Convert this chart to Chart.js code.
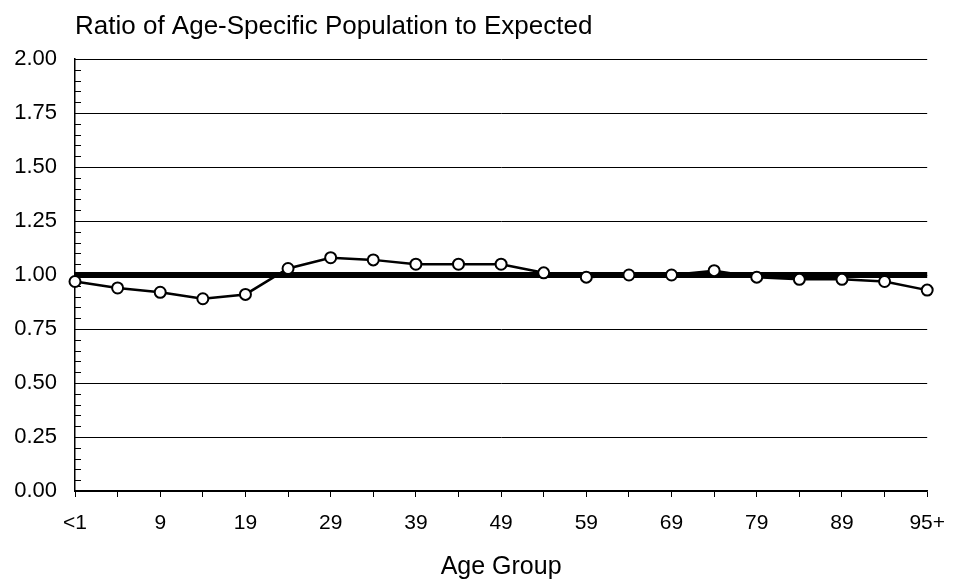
<!DOCTYPE html>
<html>
<head>
<meta charset="utf-8">
<script src="https://cdn.jsdelivr.net/npm/chart.js@4"></script>
<style>
  html, body { margin: 0; padding: 0; background: #fff; }
  #wrap { width: 959px; height: 584px; }
</style>
</head>
<body>
<div id="wrap"><canvas id="c" width="959" height="584"></canvas></div>
<script>
const chartTitle = "Ratio of Age-Specific Population to Expected";
const xAxisTitle = "Age Group";
const ageGroups = ["<1","4","9","14","19","24","29","34","39","44","49","54","59","64","69","74","79","84","89","94","95+"];
const ratioValues = [0.97,0.94,0.92,0.89,0.91,1.03,1.08,1.07,1.05,1.05,1.05,1.01,0.99,1.00,1.00,1.02,0.99,0.98,0.98,0.97,0.93];
const expectedValues = [1,1,1,1,1,1,1,1,1,1,1,1,1,1,1,1,1,1,1,1,1];
const yMin = 0, yMax = 2, yMinorStep = 0.05, yMajorStep = 0.25;

const FONT = "'Liberation Sans', Arial, sans-serif";

const isMajor = v => Math.round(v * 100) % Math.round(yMajorStep * 100) === 0;

const decorPlugin = {
  id: 'decor',
  afterDraw(chart) {
    const {ctx, chartArea, scales} = chart;
    const y = scales.y;
    ctx.save();
    ctx.strokeStyle = '#000';
    ctx.lineWidth = 1;
    y.ticks.forEach(t => {
      const py = Math.round(y.getPixelForValue(t.value)) + 0.5;
      ctx.beginPath();
      ctx.moveTo(chartArea.left, py);
      ctx.lineTo(chartArea.left + 6, py);
      ctx.stroke();
    });
    ctx.fillStyle = '#000';
    ctx.font = "26px " + FONT;
    ctx.textBaseline = 'alphabetic';
    ctx.textAlign = 'left';
    ctx.fillText(chartTitle, chartArea.left, 34);
    ctx.restore();
  }
};

new Chart(document.getElementById('c'), {
  type: 'line',
  data: {
    labels: ageGroups,
    datasets: [
      {
        label: 'Ratio',
        data: ratioValues,
        borderColor: '#000',
        borderWidth: 2.5,
        pointBackgroundColor: '#fff',
        pointBorderColor: '#000',
        pointBorderWidth: 2,
        pointRadius: 5.5,
        tension: 0,
        order: 0
      },
      {
        label: 'Expected',
        data: expectedValues,
        borderColor: '#000',
        borderWidth: 6,
        pointRadius: 0,
        tension: 0,
        order: 1
      }
    ]
  },
  options: {
    responsive: false,
    animation: false,
    events: [],
    layout: { padding: { top: 59, right: 22, left: 0, bottom: 0 } },
    plugins: {
      legend: { display: false },
      tooltip: { enabled: false },
      title: { display: false }
    },
    scales: {
      x: {
        type: 'category',
        offset: false,
        afterFit(scale) { scale.height = 93; },
        grid: {
          drawOnChartArea: false,
          drawTicks: true,
          tickLength: 6,
          color: '#000',
          tickColor: '#000',
          offset: false
        },
        border: { color: '#000', width: 1.5 },
        ticks: {
          autoSkip: false,
          maxRotation: 0,
          minRotation: 0,
          padding: 14,
          color: '#000',
          font: { family: FONT, size: 21 },
          callback(value, index) {
            return index % 2 === 0 ? ageGroups[index] : '';
          }
        },
        title: {
          display: true,
          text: xAxisTitle,
          color: '#000',
          font: { family: FONT, size: 25 },
          padding: { top: 0, bottom: 2 }
        }
      },
      y: {
        min: yMin,
        max: yMax,
        afterFit(scale) { scale.width = 75; },
        grid: {
          drawTicks: false,
          tickLength: 0,
          lineWidth: 1,
          color(ctx) {
            return ctx.tick && isMajor(ctx.tick.value) ? '#000' : 'rgba(0,0,0,0)';
          }
        },
        border: { color: '#000', width: 1.5 },
        ticks: {
          stepSize: yMinorStep,
          autoSkip: false,
          padding: 18,
          color: '#000',
          font: { family: FONT, size: 22 },
          callback(value) {
            return isMajor(value) ? value.toFixed(2) : '';
          }
        }
      }
    }
  },
  plugins: [decorPlugin]
});
</script>
</body>
</html>
